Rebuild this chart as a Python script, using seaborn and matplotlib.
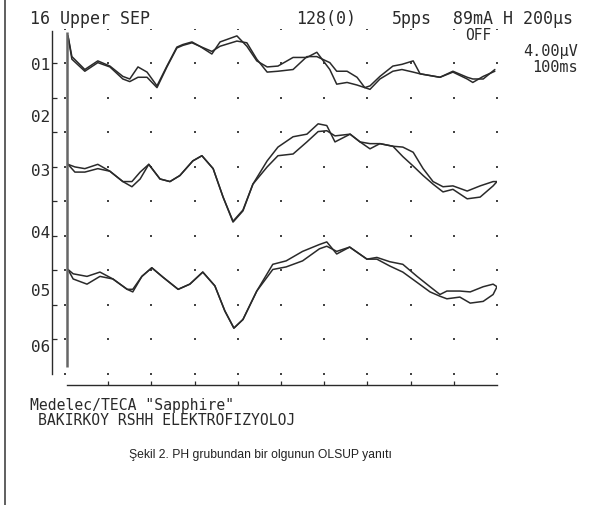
import matplotlib
matplotlib.use("Agg")
import matplotlib.pyplot as plt
from matplotlib.lines import Line2D
import seaborn as sns
import pandas as pd

# sweep time in ms (10 ms / division), amplitude in uV (4 uV / division)
t_ch1 = [0.7, 1.6, 4.6, 7.6, 10.4, 13.4, 15.0, 16.9, 19.0, 21.3, 23.6, 25.9, 27.3, 29.4,
         31.2, 34.0, 35.9, 39.8, 42.1, 44.4, 46.8, 49.3, 52.8, 56.0, 58.3, 61.3, 62.9, 65.3,
         67.6, 69.4, 70.6, 72.9, 75.9, 78.0, 80.6, 82.2, 86.8, 89.8, 93.1, 94.4, 96.8, 99.5]
ch1_a = [3.4, 1.0, -0.5, 0.5, -0.1, -1.3, -1.6, -0.2, -0.8, -2.4, -0.1, 2.1, 2.4, 2.7,
         2.2, 1.3, 2.7, 3.4, 2.2, 0.5, -0.2, -0.1, 0.9, 0.9, 1.5, -0.5, -2.2, -2.0,
         -2.3, -2.6, -2.4, -1.3, -0.1, 0.1, 0.5, -1.0, -1.4, -0.8, -1.6, -2.0, -1.3, -0.7]
ch1_b = [3.4, 0.7, -0.7, 0.3, -0.2, -1.6, -1.9, -1.4, -1.4, -2.6, -0.2, 2.0, 2.3, 2.6,
         2.2, 1.6, 2.2, 2.8, 2.6, 0.7, -0.8, -0.7, -0.5, 1.0, 1.0, 0.3, -0.7, -0.7,
         -1.4, -2.6, -2.8, -1.6, -0.7, -0.5, -0.8, -1.0, -1.4, -0.7, -1.4, -1.6, -1.6, -0.5]

t_ch3 = [0.7, 2.3, 4.6, 7.6, 10.4, 13.4, 15.5, 17.4, 19.4, 22.0, 24.3, 26.6, 29.6, 31.7,
         34.3, 36.6, 38.9, 41.2, 43.5, 46.8, 49.3, 52.8, 56.0, 58.6, 60.6, 62.5, 66.0, 68.3,
         70.6, 72.9, 75.9, 78.2, 80.6, 82.9, 85.2, 87.5, 89.8, 93.1, 96.1, 99.1, 100.0]
ch3_a = [0.3, 0.0, -0.2, 0.3, -0.5, -1.7, -1.7, -0.6, 0.3, -1.4, -1.7, -1.0, 0.7, 1.3,
         -0.2, -3.5, -6.4, -5.1, -2.0, 0.7, 2.3, 3.5, 3.8, 5.0, 4.8, 2.9, 3.8, 2.9,
         2.1, 2.7, 2.4, 1.2, 0.1, -1.0, -2.0, -2.9, -2.6, -3.7, -3.5, -2.2, -1.7]
ch3_b = [0.3, -0.6, -0.6, -0.2, -0.5, -1.7, -2.3, -1.4, 0.3, -1.4, -1.7, -1.0, 0.7, 1.3,
         -0.2, -3.5, -6.3, -5.0, -2.0, 0.0, 1.3, 1.5, 2.9, 4.1, 4.2, 3.6, 3.8, 2.9,
         2.7, 2.7, 2.4, 2.3, 1.7, -0.2, -1.7, -2.3, -2.2, -2.8, -2.2, -1.7, -1.7]

t_ch5 = [0.7, 1.9, 5.1, 8.1, 11.1, 14.4, 15.7, 17.8, 20.1, 22.7, 26.2, 28.9, 31.9, 34.7,
         37.0, 39.1, 41.2, 44.4, 48.1, 51.2, 55.0, 58.9, 60.6, 62.9, 65.9, 69.9, 72.2, 75.2,
         78.2, 81.5, 84.5, 86.8, 88.4, 91.4, 93.8, 96.8, 99.1, 100.0]
ch5_a = [0.3, -0.2, -0.5, 0.0, -0.8, -2.0, -2.0, -0.5, 0.5, -0.6, -2.0, -1.4, 0.0, -1.6,
         -4.5, -6.5, -5.5, -2.2, 0.9, 1.3, 2.4, 3.2, 3.5, 2.1, 2.9, 1.5, 1.5, 0.7,
         0.0, -1.2, -2.3, -2.8, -3.1, -2.9, -3.6, -3.4, -2.6, -1.7]
ch5_b = [0.3, -0.8, -1.4, -0.5, -0.8, -2.0, -2.3, -0.5, 0.5, -0.6, -2.0, -1.4, 0.0, -1.6,
         -4.5, -6.5, -5.5, -2.2, 0.3, 0.6, 1.3, 2.7, 3.0, 2.4, 2.9, 1.5, 1.7, 1.2,
         0.9, -0.5, -1.7, -2.6, -2.2, -2.2, -2.3, -1.7, -1.4, -1.7]

# baseline of each displayed pair on the screen (uV below top grid row)
baselines = [-4.2, -16.0, -28.2]
channel_labels = ["01", "02", "03", "04", "05", "06"]

rows = []
for i, (t, a, b) in enumerate([(t_ch1, ch1_a, ch1_b), (t_ch3, ch3_a, ch3_b), (t_ch5, ch5_a, ch5_b)]):
    for sweep, vals in (("a", a), ("b", b)):
        for tt, v in zip(t, vals):
            rows.append({"pair": i, "sweep": sweep, "ms": tt, "uV": v + baselines[i]})
df = pd.DataFrame(rows)

grid = pd.DataFrame([{"ms": x, "uV": y} for x in range(0, 101, 10) for y in range(0, -41, -4)])

sns.set_theme(style="white")
plt.rcParams['font.family'] = ['DejaVu Sans Mono', 'DejaVu Sans']

W, H = 601, 506
fig = plt.figure(figsize=(W / 100, H / 100), dpi=100)
ax = fig.add_axes([52 / W, 1 - 386 / H, 445 / W, 356 / H])
ax.set_facecolor("white")

ink = "#2a2a2a"
sns.scatterplot(data=grid, x="ms", y="uV", ax=ax, marker="s", s=3, color="#444",
                linewidth=0, legend=False)
for (p, s), g in df.groupby(["pair", "sweep"]):
    sns.lineplot(data=g, x="ms", y="uV", ax=ax, color=ink, lw=1.1, sort=False,
                 estimator=None, legend=False)

# stimulus artifact
ax.vlines(0.5, -39.2, -0.3, color="#666", lw=1.8)

ax.set_xlim(-3.0, 100)
ax.set_ylim(-41.3, 0)
for side in ["top", "right"]:
    ax.spines[side].set_visible(False)
ax.spines["left"].set_bounds(-40, -0.2)
ax.spines["bottom"].set_bounds(0.5, 100)
for side in ["left", "bottom"]:
    ax.spines[side].set_color(ink)
    ax.spines[side].set_linewidth(1.0)
ax.set_yticks(range(-4, -37, -4))
ax.set_xticks(range(10, 100, 10))
ax.set_yticklabels([])
ax.set_xticklabels([])
ax.tick_params(axis="y", direction="in", length=3.5, width=0.9, color=ink, left=True)
ax.tick_params(axis="x", direction="in", length=3, width=0.9, color=ink, bottom=True)
ax.set_xlabel("")
ax.set_ylabel("")


def fx(x):
    return x / W


def fy(y):
    return 1 - y / H


label_y = [65, 117, 172, 234, 292, 347]
for lab, y in zip(channel_labels, label_y):
    fig.text(fx(50), fy(y), lab, ha="right", va="center", fontsize=11.5, color=ink)

fig.text(fx(30), fy(24), "16 Upper SEP", ha="left", va="baseline", fontsize=12, color=ink)
fig.text(fx(296), fy(24), "128(0)", ha="left", va="baseline", fontsize=12, color=ink)
fig.text(fx(392), fy(24), "5pps", ha="left", va="baseline", fontsize=12, color=ink)
fig.text(fx(453), fy(24), "89mA H 200µs", ha="left", va="baseline", fontsize=12, color=ink)
fig.text(fx(465), fy(40), "OFF", ha="left", va="baseline", fontsize=10.5, color=ink)
fig.text(fx(578), fy(56), "4.00µV", ha="right", va="baseline", fontsize=11, color=ink)
fig.text(fx(578), fy(72), "100ms", ha="right", va="baseline", fontsize=11, color=ink)

fig.text(fx(30), fy(410), 'Medelec/TECA "Sapphire"', ha="left", va="baseline", fontsize=10.6, color=ink)
fig.text(fx(38), fy(425), "BAKIRKOY RSHH ELEKTROFIZYOLOJ", ha="left", va="baseline", fontsize=10.6, color=ink)

fig.text(fx(260), fy(455), "Şekil 2. PH grubundan bir olgunun OLSUP yanıtı", ha="center", va="center",
         fontsize=8.7, color="#222", family=["Liberation Sans", "DejaVu Sans"])

fig.add_artist(Line2D([fx(5), fx(5)], [0, 1], transform=fig.transFigure, color="#444", lw=1.2))

fig.savefig("out.png", dpi=100, facecolor="white")
